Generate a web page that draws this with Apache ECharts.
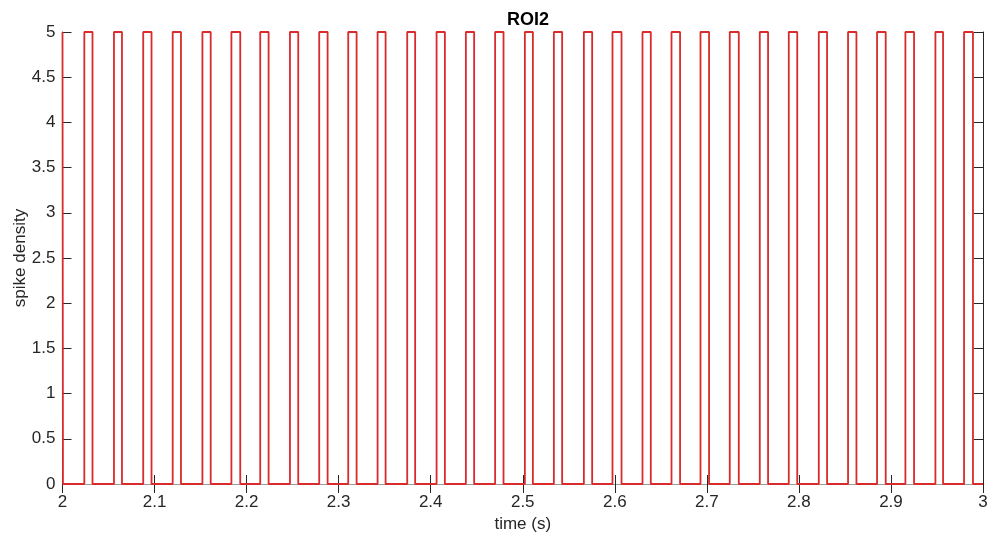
<!DOCTYPE html>
<html>
<head>
<meta charset="utf-8">
<title>ROI2</title>
<script src="https://cdn.jsdelivr.net/npm/echarts@6/dist/echarts.min.js"></script>
<style>
  html, body { margin: 0; padding: 0; background: #ffffff; }
  #chart { width: 994px; height: 542px; }
</style>
</head>
<body>
<div id="chart"></div>
<script>
// Spike-density trace for ROI2: level is either 0 or the burst level.
const burstLevel = 5;
const startLevel = 5;          // trace is high at t = 2 and drops immediately
const initialDrop = 2.0005;

// Onset (rise) and offset (fall) times of each burst, in seconds
const riseTimes = [
  2.0237, 2.0559, 2.0877, 2.1197, 2.1520, 2.1835, 2.2148, 2.2471,
  2.2789, 2.3104, 2.3423, 2.3745, 2.4064, 2.4382, 2.4700, 2.5023,
  2.5338, 2.5664, 2.5975, 2.6301, 2.6616, 2.6931, 2.7249, 2.7575,
  2.7890, 2.8216, 2.8534, 2.8849, 2.9157, 2.9483, 2.9794
];
const fallTimes = [
  2.0326, 2.0646, 2.0967, 2.1287, 2.1610, 2.1931, 2.2239, 2.2561,
  2.2880, 2.3195, 2.3510, 2.3831, 2.4154, 2.4472, 2.4791, 2.5110,
  2.5428, 2.5754, 2.6073, 2.6391, 2.6709, 2.7024, 2.7347, 2.7665,
  2.7982, 2.8306, 2.8625, 2.8943, 2.9251, 2.9566, 2.9891
];

const xTicks = [2, 2.1, 2.2, 2.3, 2.4, 2.5, 2.6, 2.7, 2.8, 2.9, 3];
const yTicks = [0, 0.5, 1, 1.5, 2, 2.5, 3, 3.5, 4, 4.5, 5];

// Build the step-shaped trace from the burst edges
const trace = [[xTicks[0], startLevel], [initialDrop, 0]];
for (let i = 0; i < riseTimes.length; i++) {
  trace.push([riseTimes[i], 0]);
  trace.push([riseTimes[i], burstLevel]);
  trace.push([fallTimes[i], burstLevel]);
  trace.push([fallTimes[i], 0]);
}
trace.push([xTicks[xTicks.length - 1], 0]);

const fmt = v => {
  const s = (Math.round(v * 10) / 10).toFixed(1);
  return s.endsWith('.0') ? s.slice(0, -2) : s;
};

const fontFamily = '"Liberation Sans", Arial, Helvetica, sans-serif';
const axisColor = '#262626';

const chart = echarts.init(document.getElementById('chart'), null, { renderer: 'canvas' });
chart.setOption({
  animation: false,
  backgroundColor: '#ffffff',
  title: {
    text: 'ROI2',
    left: 523,
    top: 6,
    textAlign: 'center',
    textStyle: { fontFamily, fontSize: 18, fontWeight: 'bold', color: '#000000' }
  },
  grid: {
    left: 62.5, right: 11, top: 32, bottom: 58,
    containLabel: false,
    outerBoundsMode: 'none'
  },
  xAxis: [
    {
      type: 'value',
      min: xTicks[0],
      max: xTicks[xTicks.length - 1],
      interval: 0.1,
      name: 'time (s)',
      nameLocation: 'middle',
      nameGap: 31,
      nameTextStyle: { fontFamily, fontSize: 17, color: axisColor },
      axisLine: { show: true, lineStyle: { color: axisColor, width: 1 } },
      axisTick: { show: true, inside: true, length: 9, lineStyle: { color: axisColor } },
      axisLabel: { formatter: fmt, fontFamily, fontSize: 17, color: axisColor, margin: 10 },
      splitLine: { show: false }
    },
    {
      type: 'value',
      position: 'top',
      min: xTicks[0],
      max: xTicks[xTicks.length - 1],
      interval: 0.1,
      axisLine: { show: true, lineStyle: { color: '#9a9a9a', width: 1 } },
      axisTick: { show: true, inside: true, length: 9, lineStyle: { color: axisColor } },
      axisLabel: { show: false },
      splitLine: { show: false }
    }
  ],
  yAxis: [
    {
      type: 'value',
      min: yTicks[0],
      max: yTicks[yTicks.length - 1],
      interval: 0.5,
      name: 'spike density',
      nameLocation: 'middle',
      nameGap: 34,
      nameMoveOverlap: false,
      nameRotate: 90,
      nameTextStyle: { fontFamily, fontSize: 17, color: axisColor },
      axisLine: { show: true, lineStyle: { color: axisColor, width: 1 } },
      axisTick: { show: true, inside: true, length: 9, lineStyle: { color: axisColor } },
      axisLabel: { formatter: fmt, fontFamily, fontSize: 17, color: axisColor, margin: 7 },
      splitLine: { show: false }
    },
    {
      type: 'value',
      position: 'right',
      min: yTicks[0],
      max: yTicks[yTicks.length - 1],
      interval: 0.5,
      axisLine: { show: true, lineStyle: { color: axisColor, width: 1 } },
      axisTick: { show: true, inside: true, length: 9, lineStyle: { color: axisColor } },
      axisLabel: { show: false },
      splitLine: { show: false }
    }
  ],
  series: [
    {
      type: 'line',
      xAxisIndex: 0,
      yAxisIndex: 0,
      data: trace,
      showSymbol: false,
      clip: false,
      lineStyle: { color: '#d92b2b', width: 1.8 },
      z: 3
    }
  ]
});
</script>
</body>
</html>
